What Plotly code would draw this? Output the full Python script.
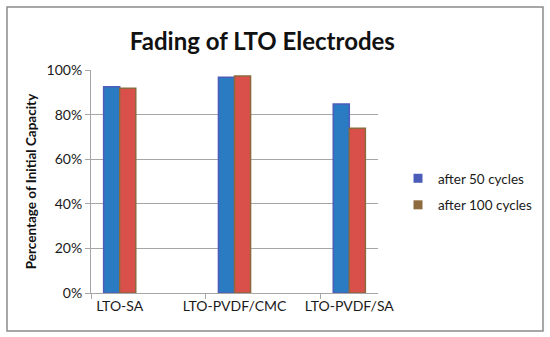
import plotly.graph_objects as go

categories = ["LTO-SA", "LTO-PVDF/CMC", "LTO-PVDF/SA"]
after_50 = [92.5, 96.7, 84.8]
after_100 = [91.8, 97.3, 73.9]
y_ticks = [0, 20, 40, 60, 80, 100]
y_tick_labels = ["0%", "20%", "40%", "60%", "80%", "100%"]

xpos = list(range(len(categories)))
FONT = "Lato"

fig = go.Figure()
fig.add_trace(go.Bar(x=xpos, y=after_50, name="after 50 cycles", showlegend=False,
                     marker=dict(color="#2B7BC2", line=dict(color="#4E5CBA", width=1.5))))
fig.add_trace(go.Bar(x=xpos, y=after_100, name="after 100 cycles", showlegend=False,
                     marker=dict(color="#D9504A", line=dict(color="#8C6A3C", width=1.5))))
# legend entries
fig.add_trace(go.Scatter(x=[None], y=[None], mode="markers", name="after 50 cycles",
                         legendgroup="a", marker=dict(symbol="square", size=9, color="#4A5CB8")))
fig.add_trace(go.Scatter(x=[None], y=[None], mode="markers", name="after 100 cycles",
                         legendgroup="b", marker=dict(symbol="square", size=9, color="#8E6B3E")))

L, R, T, B = 91, 172, 70, 44
W, H = 550, 337
pw, ph = W - L - R, H - T - B

def px_x(p):
    return (p - L) / pw

def px_y(p):
    return (H - B - p) / ph

fig.update_layout(
    width=W, height=H,
    margin=dict(l=L, r=R, t=T, b=B, autoexpand=False),
    paper_bgcolor="white", plot_bgcolor="white",
    font=dict(family=FONT, size=14, color="#1a1a1a"),
    barmode="group", bargap=0.72, bargroupgap=0,
    title=dict(text="<b>Fading of LTO Electrodes</b>", x=0.477, xanchor="center",
               y=1 - 42 / H, yanchor="middle", font=dict(family=FONT, size=24, color="#111")),
    showlegend=True,
    legend=dict(x=px_x(398), xanchor="left", y=px_y(192), yanchor="middle",
                traceorder="grouped", tracegroupgap=6, itemwidth=30,
                font=dict(family=FONT, size=13.5, color="#1a1a1a"), bgcolor="rgba(0,0,0,0)"),
    xaxis=dict(range=[-0.25, 2.25], tickvals=xpos, ticktext=categories, ticks="",
               showgrid=False, zeroline=False, showline=True, linecolor="#A6A6A6", linewidth=1,
               tickfont=dict(family=FONT, size=14, color="#1a1a1a"),
               minor=dict(tick0=-0.25, dtick=1, ticks="outside", ticklen=5, tickcolor="#A6A6A6",
                          showgrid=False)),
    yaxis=dict(range=[0, 100], tickvals=y_ticks, ticktext=y_tick_labels,
               ticks="outside", ticklen=5, tickcolor="#A6A6A6",
               showgrid=True, gridcolor="#A6A6A6", gridwidth=1, zeroline=False,
               showline=True, linecolor="#A6A6A6", linewidth=1,
               tickfont=dict(family=FONT, size=14, color="#1a1a1a"),
               title=dict(text="<b>Percentage of Initial Capacity</b>", standoff=6,
                          font=dict(family=FONT, size=13.5, color="#111"))),
)

fig.add_shape(type="rect", xref="paper", yref="paper",
              x0=px_x(7), x1=px_x(543), y0=px_y(331), y1=px_y(7),
              line=dict(color="#8A8A8A", width=1.5), fillcolor="rgba(0,0,0,0)", layer="below")

fig.write_html("out.html", config={"displayModeBar": False},
               post_script="document.body.style.margin='0';")
